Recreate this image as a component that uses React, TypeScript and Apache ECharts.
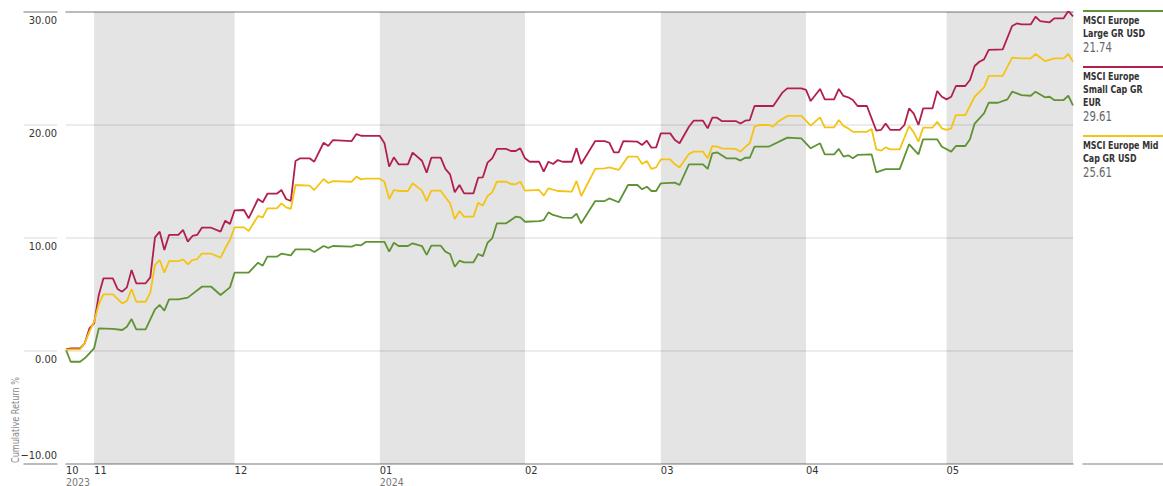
import React, { useEffect, useRef } from 'react';
import * as echarts from 'echarts';

const FONT = "'DejaVu Sans Condensed','Liberation Sans Narrow',Roboto,sans-serif";

const startDate = '2023-10-26';
const endDate = '2024-05-28';

const monthTicks = ['2023-10-26', '2023-11-01', '2023-12-01', '2024-01-01', '2024-02-01', '2024-03-01', '2024-04-01', '2024-05-01'];
const shadedMonths: [string, string][] = [
  ['2023-11-01', '2023-12-01'],
  ['2024-01-01', '2024-02-01'],
  ['2024-03-01', '2024-04-01'],
  ['2024-05-01', '2024-05-28'],
];
const yTicks = [-10, 0, 10, 20, 30];

const seriesNames = ['MSCI Europe Large GR USD', 'MSCI Europe Small Cap GR EUR', 'MSCI Europe Mid Cap GR USD'];
const legendLines = [
  ['MSCI Europe', 'Large GR USD'],
  ['MSCI Europe', 'Small Cap GR', 'EUR'],
  ['MSCI Europe Mid', 'Cap GR USD'],
];
const seriesColors = ['#5f9334', '#b21f4d', '#f4c414'];

const largeCap: [string, number][] = [
  ['2023-10-26', 0.1], ['2023-10-27', -0.95], ['2023-10-29', -0.95], ['2023-10-30', -0.65], ['2023-11-01', 0.24],
  ['2023-11-02', 2.0], ['2023-11-05', 1.95], ['2023-11-07', 1.86], ['2023-11-08', 2.15], ['2023-11-09', 2.83],
  ['2023-11-10', 1.92], ['2023-11-12', 1.92], ['2023-11-14', 3.69], ['2023-11-15', 4.07], ['2023-11-16', 3.57],
  ['2023-11-17', 4.57], ['2023-11-19', 4.57], ['2023-11-21', 4.72], ['2023-11-24', 5.69], ['2023-11-26', 5.69],
  ['2023-11-28', 4.96], ['2023-11-30', 5.63], ['2023-12-01', 6.93], ['2023-12-04', 6.93], ['2023-12-06', 7.82],
  ['2023-12-07', 7.55], ['2023-12-08', 8.35], ['2023-12-10', 8.35], ['2023-12-11', 8.61], ['2023-12-13', 8.46],
  ['2023-12-14', 9.0], ['2023-12-17', 9.0], ['2023-12-18', 8.76], ['2023-12-20', 9.29], ['2023-12-21', 9.12],
  ['2023-12-22', 9.29], ['2023-12-26', 9.23], ['2023-12-27', 9.4], ['2023-12-28', 9.35], ['2023-12-29', 9.65],
  ['2024-01-02', 9.65], ['2024-01-03', 8.79], ['2024-01-04', 9.58], ['2024-01-05', 9.29], ['2024-01-07', 9.29],
  ['2024-01-08', 9.53], ['2024-01-10', 9.29], ['2024-01-11', 8.5], ['2024-01-12', 9.32], ['2024-01-14', 9.32],
  ['2024-01-15', 8.79], ['2024-01-16', 8.58], ['2024-01-17', 7.46], ['2024-01-18', 7.99], ['2024-01-19', 7.85],
  ['2024-01-21', 7.85], ['2024-01-22', 8.58], ['2024-01-23', 8.4], ['2024-01-24', 9.58], ['2024-01-25', 9.97],
  ['2024-01-26', 11.3], ['2024-01-28', 11.3], ['2024-01-30', 11.89], ['2024-01-31', 11.83], ['2024-02-01', 11.44],
  ['2024-02-04', 11.5], ['2024-02-05', 11.59], ['2024-02-06', 12.27], ['2024-02-07', 12.04], ['2024-02-09', 11.8],
  ['2024-02-11', 11.78], ['2024-02-12', 12.15], ['2024-02-13', 11.3], ['2024-02-16', 13.27], ['2024-02-18', 13.27],
  ['2024-02-19', 13.5], ['2024-02-21', 13.16], ['2024-02-23', 14.69], ['2024-02-25', 14.69], ['2024-02-26', 14.31],
  ['2024-02-27', 14.54], ['2024-02-28', 14.16], ['2024-02-29', 14.16], ['2024-03-01', 14.84], ['2024-03-04', 14.9],
  ['2024-03-05', 14.69], ['2024-03-07', 16.52], ['2024-03-10', 16.52], ['2024-03-11', 16.11], ['2024-03-12', 17.49],
  ['2024-03-13', 17.58], ['2024-03-15', 17.05], ['2024-03-17', 17.05], ['2024-03-18', 16.85], ['2024-03-19', 17.1],
  ['2024-03-20', 17.1], ['2024-03-21', 18.08], ['2024-03-24', 18.08], ['2024-03-28', 18.88], ['2024-03-31', 18.82],
  ['2024-04-02', 17.94], ['2024-04-04', 18.38], ['2024-04-05', 17.4], ['2024-04-07', 17.4], ['2024-04-08', 17.88],
  ['2024-04-09', 17.2], ['2024-04-10', 17.32], ['2024-04-11', 17.05], ['2024-04-12', 17.35], ['2024-04-15', 17.4],
  ['2024-04-16', 15.81], ['2024-04-18', 16.1], ['2024-04-21', 16.1], ['2024-04-23', 18.3], ['2024-04-24', 17.85],
  ['2024-04-25', 17.4], ['2024-04-26', 18.73], ['2024-04-29', 18.73], ['2024-04-30', 18.08], ['2024-05-02', 17.64],
  ['2024-05-03', 18.14], ['2024-05-05', 18.14], ['2024-05-06', 18.73], ['2024-05-07', 20.13], ['2024-05-09', 21.02],
  ['2024-05-10', 21.97], ['2024-05-12', 21.97], ['2024-05-14', 22.27], ['2024-05-15', 22.95], ['2024-05-17', 22.65],
  ['2024-05-19', 22.59], ['2024-05-20', 22.95], ['2024-05-22', 22.45], ['2024-05-23', 22.5], ['2024-05-24', 22.21],
  ['2024-05-26', 22.21], ['2024-05-27', 22.59], ['2024-05-28', 21.74],
];

const smallCap: [string, number][] = [
  ['2023-10-26', 0.15], ['2023-10-27', 0.24], ['2023-10-29', 0.24], ['2023-10-30', 0.68], ['2023-10-31', 2.0],
  ['2023-11-01', 2.45], ['2023-11-02', 4.96], ['2023-11-03', 6.43], ['2023-11-05', 6.43], ['2023-11-06', 5.49],
  ['2023-11-07', 5.25], ['2023-11-08', 5.63], ['2023-11-09', 7.17], ['2023-11-10', 5.99], ['2023-11-12', 5.99],
  ['2023-11-13', 6.52], ['2023-11-14', 10.06], ['2023-11-15', 10.56], ['2023-11-16', 8.94], ['2023-11-17', 10.27],
  ['2023-11-19', 10.27], ['2023-11-20', 10.71], ['2023-11-21', 9.68], ['2023-11-22', 10.18], ['2023-11-23', 10.27],
  ['2023-11-24', 10.91], ['2023-11-26', 10.91], ['2023-11-28', 10.56], ['2023-11-29', 11.53], ['2023-11-30', 11.24],
  ['2023-12-01', 12.45], ['2023-12-03', 12.48], ['2023-12-04', 11.74], ['2023-12-06', 13.45], ['2023-12-07', 13.16],
  ['2023-12-08', 13.92], ['2023-12-10', 13.92], ['2023-12-11', 14.25], ['2023-12-12', 13.45], ['2023-12-13', 13.27],
  ['2023-12-14', 16.81], ['2023-12-15', 17.05], ['2023-12-17', 17.05], ['2023-12-18', 16.75], ['2023-12-20', 18.43],
  ['2023-12-21', 18.14], ['2023-12-22', 18.67], ['2023-12-26', 18.58], ['2023-12-27', 19.2], ['2023-12-28', 19.05],
  ['2023-12-29', 19.03], ['2024-01-01', 19.03], ['2024-01-02', 18.38], ['2024-01-03', 16.31], ['2024-01-04', 17.14],
  ['2024-01-05', 16.52], ['2024-01-07', 16.52], ['2024-01-08', 17.55], ['2024-01-10', 16.84], ['2024-01-11', 15.78],
  ['2024-01-12', 17.11], ['2024-01-14', 17.11], ['2024-01-15', 16.11], ['2024-01-16', 15.63], ['2024-01-17', 14.04],
  ['2024-01-18', 14.69], ['2024-01-19', 13.95], ['2024-01-21', 13.95], ['2024-01-22', 15.34], ['2024-01-23', 15.37],
  ['2024-01-24', 16.67], ['2024-01-25', 17.05], ['2024-01-26', 17.88], ['2024-01-28', 17.88], ['2024-01-29', 17.7],
  ['2024-01-30', 17.7], ['2024-01-31', 17.94], ['2024-02-01', 17.05], ['2024-02-02', 16.75], ['2024-02-04', 16.75],
  ['2024-02-05', 15.87], ['2024-02-06', 16.75], ['2024-02-07', 16.55], ['2024-02-08', 16.9], ['2024-02-09', 16.75],
  ['2024-02-11', 16.75], ['2024-02-12', 17.95], ['2024-02-13', 16.55], ['2024-02-16', 18.58], ['2024-02-18', 18.58],
  ['2024-02-19', 18.43], ['2024-02-20', 17.58], ['2024-02-21', 17.58], ['2024-02-22', 18.58], ['2024-02-25', 18.52],
  ['2024-02-26', 18.23], ['2024-02-27', 18.61], ['2024-02-28', 17.99], ['2024-02-29', 18.02], ['2024-03-01', 19.26],
  ['2024-03-03', 19.26], ['2024-03-04', 18.67], ['2024-03-05', 18.38], ['2024-03-07', 19.85], ['2024-03-08', 20.38],
  ['2024-03-10', 20.38], ['2024-03-11', 19.7], ['2024-03-12', 20.65], ['2024-03-13', 20.65], ['2024-03-14', 20.35],
  ['2024-03-17', 20.35], ['2024-03-18', 20.13], ['2024-03-19', 20.38], ['2024-03-20', 20.44], ['2024-03-21', 21.68],
  ['2024-03-25', 21.68], ['2024-03-27', 22.89], ['2024-03-28', 23.24], ['2024-03-31', 23.24], ['2024-04-01', 23.1],
  ['2024-04-02', 22.12], ['2024-04-04', 23.19], ['2024-04-05', 22.27], ['2024-04-07', 22.27], ['2024-04-08', 23.19],
  ['2024-04-09', 22.57], ['2024-04-10', 22.45], ['2024-04-11', 22.21], ['2024-04-12', 21.68], ['2024-04-14', 21.68],
  ['2024-04-16', 19.5], ['2024-04-17', 19.56], ['2024-04-18', 20.13], ['2024-04-19', 19.56], ['2024-04-21', 19.56],
  ['2024-04-22', 20.0], ['2024-04-23', 21.47], ['2024-04-24', 21.0], ['2024-04-25', 20.0], ['2024-04-26', 21.47],
  ['2024-04-28', 21.47], ['2024-04-29', 23.01], ['2024-04-30', 22.5], ['2024-05-01', 22.27], ['2024-05-02', 22.5],
  ['2024-05-03', 23.45], ['2024-05-05', 23.45], ['2024-05-06', 23.98], ['2024-05-07', 25.22], ['2024-05-08', 25.6],
  ['2024-05-09', 25.81], ['2024-05-10', 26.64], ['2024-05-13', 26.7], ['2024-05-15', 28.76], ['2024-05-16', 28.99],
  ['2024-05-17', 28.91], ['2024-05-19', 28.91], ['2024-05-20', 29.58], ['2024-05-21', 29.2], ['2024-05-23', 29.09],
  ['2024-05-24', 29.44], ['2024-05-26', 29.44], ['2024-05-27', 30.09], ['2024-05-28', 29.61],
];

const midCap: [string, number][] = [
  ['2023-10-26', 0.1], ['2023-10-27', 0.15], ['2023-10-29', 0.15], ['2023-10-30', 0.68], ['2023-10-31', 1.71],
  ['2023-11-01', 2.6], ['2023-11-02', 4.16], ['2023-11-03', 5.01], ['2023-11-05', 5.01], ['2023-11-07', 4.21],
  ['2023-11-08', 4.42], ['2023-11-09', 5.49], ['2023-11-10', 4.36], ['2023-11-12', 4.36], ['2023-11-13', 5.16],
  ['2023-11-14', 7.61], ['2023-11-15', 8.05], ['2023-11-16', 6.93], ['2023-11-17', 7.96], ['2023-11-19', 7.96],
  ['2023-11-20', 8.11], ['2023-11-21', 7.67], ['2023-11-22', 8.05], ['2023-11-23', 8.14], ['2023-11-24', 8.61],
  ['2023-11-26', 8.61], ['2023-11-28', 8.26], ['2023-11-29', 9.09], ['2023-11-30', 9.82], ['2023-12-01', 10.94],
  ['2023-12-03', 10.94], ['2023-12-04', 10.62], ['2023-12-06', 11.95], ['2023-12-07', 11.83], ['2023-12-08', 12.63],
  ['2023-12-10', 12.63], ['2023-12-11', 13.07], ['2023-12-12', 12.71], ['2023-12-13', 12.57], ['2023-12-14', 14.69],
  ['2023-12-17', 14.63], ['2023-12-18', 14.25], ['2023-12-20', 15.22], ['2023-12-21', 14.87], ['2023-12-22', 15.04],
  ['2023-12-26', 14.98], ['2023-12-27', 15.43], ['2023-12-28', 15.19], ['2023-12-29', 15.25], ['2024-01-01', 15.25],
  ['2024-01-02', 14.98], ['2024-01-03', 13.45], ['2024-01-04', 14.25], ['2024-01-05', 14.16], ['2024-01-07', 14.16],
  ['2024-01-08', 14.84], ['2024-01-10', 14.19], ['2024-01-11', 13.27], ['2024-01-12', 14.19], ['2024-01-14', 14.19],
  ['2024-01-15', 13.6], ['2024-01-16', 13.07], ['2024-01-17', 11.68], ['2024-01-18', 12.39], ['2024-01-19', 11.89],
  ['2024-01-21', 11.89], ['2024-01-22', 13.13], ['2024-01-23', 12.86], ['2024-01-24', 13.72], ['2024-01-25', 14.04],
  ['2024-01-26', 14.98], ['2024-01-28', 14.98], ['2024-01-29', 14.78], ['2024-01-30', 14.75], ['2024-01-31', 14.98],
  ['2024-02-01', 14.19], ['2024-02-04', 14.25], ['2024-02-05', 13.75], ['2024-02-06', 14.4], ['2024-02-08', 14.16],
  ['2024-02-11', 14.1], ['2024-02-12', 15.05], ['2024-02-13', 13.72], ['2024-02-16', 16.11], ['2024-02-18', 16.17],
  ['2024-02-19', 16.25], ['2024-02-21', 16.02], ['2024-02-23', 17.2], ['2024-02-25', 17.2], ['2024-02-26', 16.55],
  ['2024-02-27', 16.81], ['2024-02-28', 16.11], ['2024-02-29', 16.25], ['2024-03-01', 16.96], ['2024-03-03', 16.96],
  ['2024-03-04', 16.52], ['2024-03-05', 16.25], ['2024-03-07', 17.43], ['2024-03-08', 17.64], ['2024-03-10', 17.64],
  ['2024-03-11', 17.05], ['2024-03-12', 18.14], ['2024-03-13', 18.08], ['2024-03-14', 17.94], ['2024-03-17', 17.88],
  ['2024-03-18', 17.64], ['2024-03-19', 18.05], ['2024-03-20', 18.38], ['2024-03-21', 19.85], ['2024-03-22', 20.0],
  ['2024-03-24', 20.0], ['2024-03-25', 19.85], ['2024-03-26', 20.29], ['2024-03-28', 20.8], ['2024-03-31', 20.8],
  ['2024-04-02', 19.94], ['2024-04-04', 20.68], ['2024-04-05', 19.79], ['2024-04-07', 19.79], ['2024-04-08', 20.44],
  ['2024-04-09', 19.91], ['2024-04-10', 19.7], ['2024-04-11', 19.4], ['2024-04-14', 19.4], ['2024-04-15', 19.65],
  ['2024-04-16', 17.85], ['2024-04-17', 17.73], ['2024-04-18', 18.02], ['2024-04-19', 17.85], ['2024-04-21', 17.85],
  ['2024-04-23', 19.91], ['2024-04-24', 19.35], ['2024-04-25', 18.53], ['2024-04-26', 19.76], ['2024-04-28', 19.76],
  ['2024-04-29', 20.29], ['2024-04-30', 19.7], ['2024-05-01', 19.56], ['2024-05-02', 19.7], ['2024-05-03', 20.88],
  ['2024-05-05', 20.88], ['2024-05-07', 22.5], ['2024-05-09', 23.33], ['2024-05-10', 24.34], ['2024-05-13', 24.34],
  ['2024-05-15', 25.96], ['2024-05-17', 25.9], ['2024-05-19', 25.9], ['2024-05-20', 26.28], ['2024-05-22', 25.66],
  ['2024-05-24', 25.9], ['2024-05-26', 25.9], ['2024-05-27', 26.28], ['2024-05-28', 25.61],
];

const seriesData = [largeCap, smallCap, midCap];

const toTs = (s: string) => {
  const [y, m, d] = s.split('-').map(Number);
  return new Date(y, m - 1, d).getTime();
};

export default function App() {
  const ref = useRef<HTMLDivElement>(null);

  useEffect(() => {
    document.body.style.margin = '0';
    if (!ref.current) return;
    const chart = echarts.init(ref.current, undefined, { renderer: 'svg' });

    const lightGrid = '#e6e6e6';
    const darkLine = '#ababab';

    const legendEls: any[] = [];
    let y = 11;
    seriesNames.forEach((_, i) => {
      const lines = legendLines[i];
      const data = seriesData[i];
      const last = data[data.length - 1][1];
      legendEls.push({
        type: 'line',
        shape: { x1: 1083, y1: y, x2: 1163, y2: y },
        style: { stroke: seriesColors[i], lineWidth: 2 },
        silent: true,
      });
      lines.forEach((t, j) => {
        legendEls.push({
          type: 'text',
          x: 1083,
          y: y + 9 + j * 13,
          scaleX: 0.8,
          style: { text: t, fontFamily: FONT, fontSize: 11, fontWeight: 'bold', fill: '#333', verticalAlign: 'middle', align: 'left' },
          silent: true,
        });
      });
      const vy = y + 9 + (lines.length - 1) * 13 + 14;
      legendEls.push({
        type: 'text',
        x: 1083,
        y: vy,
        scaleX: 0.8,
        style: { text: last.toFixed(2), fontFamily: FONT, fontSize: 14, fill: '#666', verticalAlign: 'middle', align: 'left' },
        silent: true,
      });
      y = vy + 20;
    });

    const yBase = { type: 'value', min: yTicks[0], max: yTicks[yTicks.length - 1], interval: 10 };
    const edgeAxis = (gridIndex: number, position: 'top' | 'bottom') => ({
      type: 'value',
      gridIndex,
      position,
      min: 0,
      max: 1,
      axisLine: { show: true, onZero: false, lineStyle: { color: darkLine, width: 1.5 } },
      axisTick: { show: false },
      axisLabel: { show: false },
      splitLine: { show: false },
    });

    chart.setOption({
      animation: false,
      textStyle: { fontFamily: FONT },
      grid: [
        { left: 66, right: 90, top: 12, bottom: 22, outerBoundsMode: 'none', containLabel: false },
        { left: 24, width: 33, top: 12, bottom: 22, outerBoundsMode: 'none', containLabel: false },
        { left: 1083, width: 80, top: 12, bottom: 22, outerBoundsMode: 'none', containLabel: false },
      ],
      xAxis: [
        {
          type: 'value',
          gridIndex: 0,
          position: 'bottom',
          min: toTs(startDate),
          max: toTs(endDate),
          splitLine: { show: false },
          axisTick: { show: false },
          axisLine: { show: true, onZero: false, lineStyle: { color: darkLine, width: 1.5 } },
          axisLabel: {
            customValues: monthTicks.map(toTs),
            align: 'left',
            verticalAlign: 'top',
            margin: 1,
            hideOverlap: false,
            formatter: (val: number) => {
              const d = new Date(val);
              const m = String(d.getMonth() + 1).padStart(2, '0');
              if (m === '10' || m === '01') return `{m|${m}}\n{y|${d.getFullYear()}}`;
              return `{m|${m}}`;
            },
            rich: {
              m: { fontFamily: FONT, fontSize: 11, color: '#333', lineHeight: 11 },
              y: { fontFamily: FONT, fontSize: 10.5, color: '#777', lineHeight: 11 },
            },
          },
        },
        edgeAxis(0, 'top'),
        edgeAxis(1, 'bottom'),
        edgeAxis(1, 'top'),
        edgeAxis(2, 'bottom'),
      ],
      yAxis: [
        {
          ...yBase,
          gridIndex: 0,
          axisLine: { show: false },
          axisTick: { show: false },
          splitLine: { show: true, lineStyle: { color: lightGrid, width: 1.5 } },
          axisLabel: {
            margin: 9,
            verticalAlign: 'middle',
            lineHeight: 17,
            fontFamily: FONT,
            fontSize: 11,
            color: '#333',
            formatter: (v: number) => {
              const s = v < 0 ? '\u2212' + Math.abs(v).toFixed(2) : v.toFixed(2);
              return v === yTicks[0] ? s + '\n' : '\n' + s;
            },
          },
        },
        {
          ...yBase,
          gridIndex: 1,
          axisLine: { show: false },
          axisTick: { show: false },
          axisLabel: { show: false },
          splitLine: { show: true, lineStyle: { color: lightGrid, width: 1.5 } },
        },
        {
          ...yBase,
          gridIndex: 2,
          axisLine: { show: false },
          axisTick: { show: false },
          axisLabel: { show: false },
          splitLine: { show: false },
        },
      ],
      series: [
        {
          type: 'line',
          name: 'shade',
          xAxisIndex: 0,
          yAxisIndex: 0,
          data: [],
          z: 1,
          silent: true,
          markArea: {
            silent: true,
            itemStyle: { color: 'rgba(0,0,0,0.105)' },
            data: shadedMonths.map(([a, b]) => [{ xAxis: toTs(a) }, { xAxis: toTs(b) }]),
          },
        },
        ...seriesData.map((d, i) => ({
          type: 'line',
          name: seriesNames[i],
          xAxisIndex: 0,
          yAxisIndex: 0,
          data: d.map(([t, v]) => [toTs(t), v]),
          showSymbol: false,
          symbol: 'none',
          z: 3,
          lineStyle: { color: seriesColors[i], width: 1.8 },
          itemStyle: { color: seriesColors[i] },
        })),
      ],
      graphic: [
        {
          type: 'text',
          x: 15,
          y: 463,
          rotation: Math.PI / 2,
          scaleX: 0.82,
          style: { text: 'Cumulative Return %', fontFamily: FONT, fontSize: 11, fill: '#888', align: 'left', verticalAlign: 'middle' },
          silent: true,
        },
        ...legendEls,
      ],
    });

    return () => chart.dispose();
  }, []);

  return <div ref={ref} style={{ width: 1163, height: 486 }} />;
}
